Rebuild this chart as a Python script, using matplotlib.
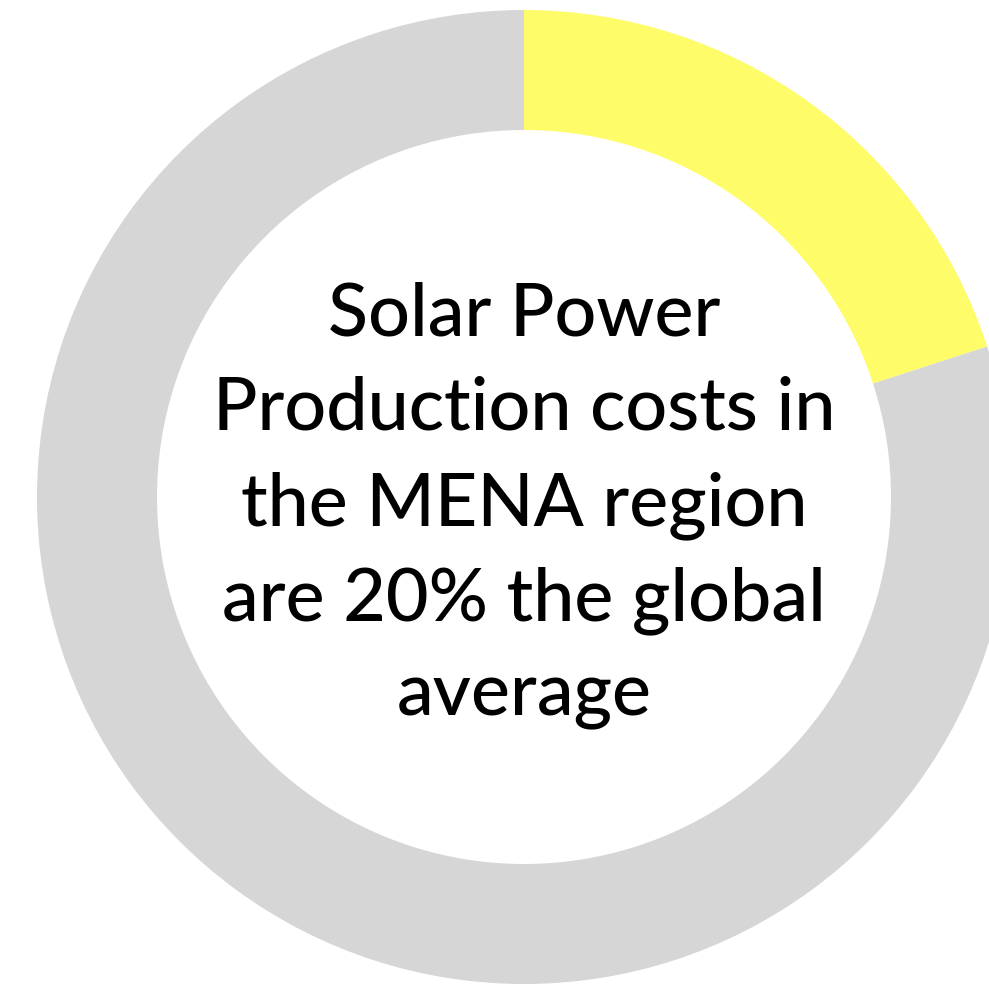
import matplotlib
matplotlib.use("Agg")
import matplotlib.pyplot as plt

# Data
labels = ["MENA", "Rest"]
values = [20, 80]
colors = ["#FFFC6A", "#D6D6D6"]
text_lines = ["Solar Power", "Production costs in", "the MENA region",
              "are 20% the global", "average"]

W, H = 989, 984
fig = plt.figure(figsize=(W / 100, H / 100), dpi=100)
ax = fig.add_axes([0, 0, 1, 1])
cx, cy, R = 524, H - 497, 487
ax.pie(values, colors=colors, startangle=90, counterclock=False,
       center=(cx, cy), radius=R,
       wedgeprops=dict(width=R - 367, linewidth=0))
ax.set_xlim(0, W)
ax.set_ylim(0, H)
ax.set_aspect("equal")
ax.axis("off")

baselines = [335, 430, 525, 620, 715]
for line, b in zip(text_lines, baselines):
    ax.text(cx, H - b, line, ha="center", va="baseline", fontsize=53,
            family=["Lato", "DejaVu Sans"], fontweight="medium", color="black")

fig.savefig("out.png", dpi=100)
